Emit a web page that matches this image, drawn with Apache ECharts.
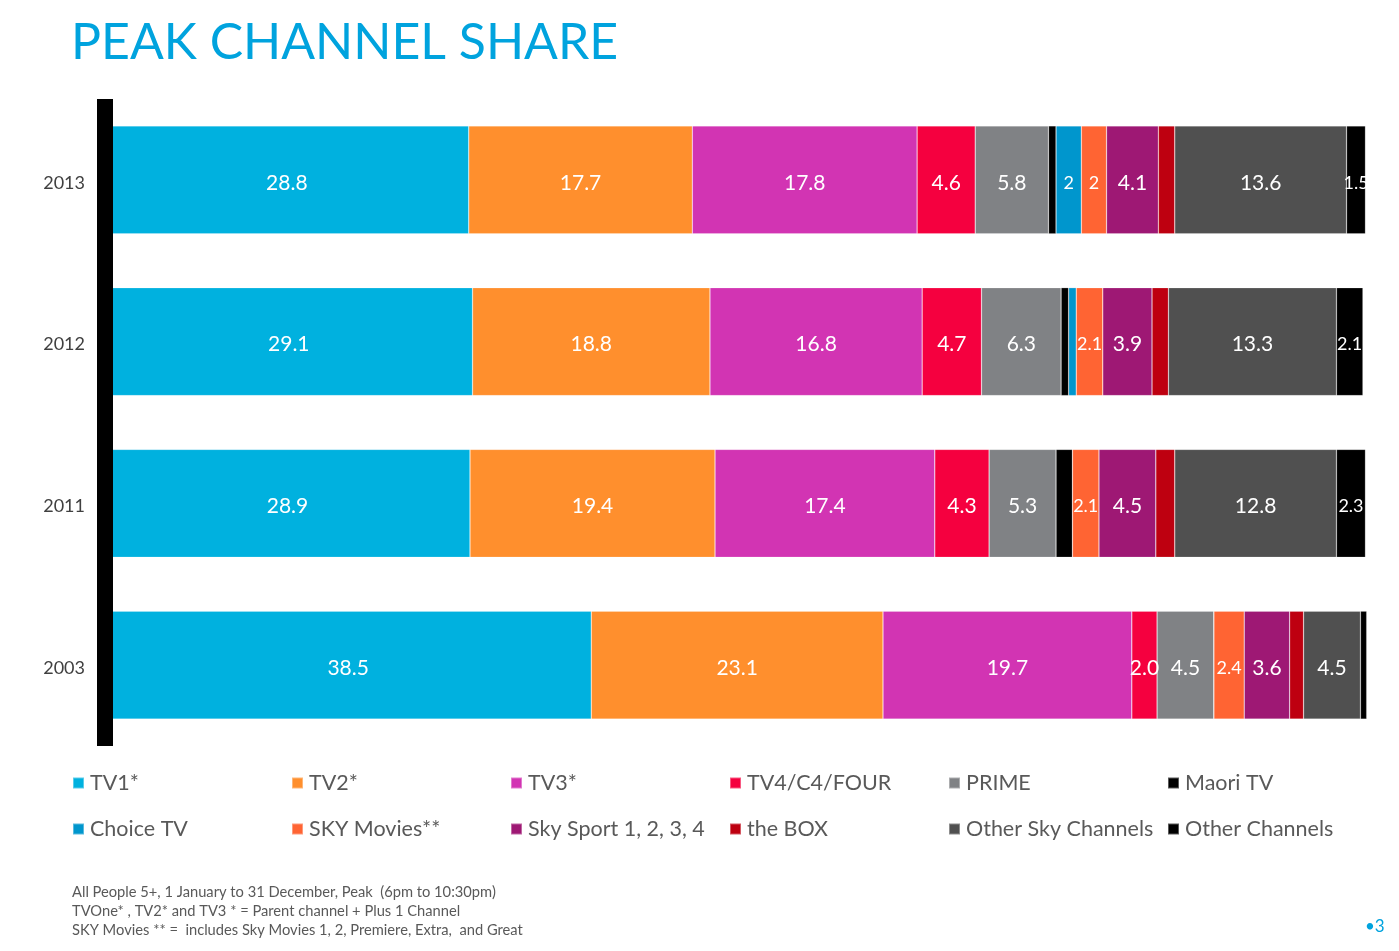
<!DOCTYPE html>
<html>
<head>
<meta charset="utf-8">
<script src="https://cdn.jsdelivr.net/npm/echarts@6/dist/echarts.min.js"></script>
<style>
  html, body { margin: 0; padding: 0; background: #fff; }
  #main { width: 1399px; height: 951px; }
</style>
</head>
<body>
<div id="main"></div>
<script>
// years, top to bottom
var years = ['2013', '2012', '2011', '2003']

// channel share per year (same order as years)
var tv1 = [28.8, 29.1, 28.9, 38.5]
var tv2 = [17.7, 18.8, 19.4, 23.1]
var tv3 = [17.8, 16.8, 17.4, 19.7]
var tv4 = [4.6, 4.7, 4.3, 2.0]
var prime = [5.8, 6.3, 5.3, 4.5]
var maori = [0.6, 0.6, 1.3, 0]
var choice = [2, 0.6, 0, 0]
var skyMovies = [2, 2.1, 2.1, 2.4]
var skySport = [4.1, 3.9, 4.5, 3.6]
var theBox = [1.3, 1.3, 1.5, 1.1]
var otherSky = [13.6, 13.3, 12.8, 4.5]
var otherCh = [1.5, 2.1, 2.3, 0.5]

var names = ['TV1*', 'TV2*', 'TV3*', 'TV4/C4/FOUR', 'PRIME', 'Maori TV',
  'Choice TV', 'SKY Movies**', 'Sky Sport 1, 2, 3, 4', 'the BOX', 'Other Sky Channels', 'Other Channels']
var values = [tv1, tv2, tv3, tv4, prime, maori, choice, skyMovies, skySport, theBox, otherSky, otherCh]
var colors = ['#00B1DF', '#FF8F2D', '#D234B3', '#F5003F', '#808285', '#000000',
  '#0096CD', '#FF6433', '#9E1874', '#BE0010', '#505050', '#000000']

var font = 'Lato'

var series = []
for (let i = 0; i < names.length; i++) {
  let hideAll = names[i] == 'Maori TV' || names[i] == 'the BOX'
  let small = names[i] == 'SKY Movies**' || names[i] == 'Other Channels' || names[i] == 'Choice TV'
  let fixed = names[i] == 'TV4/C4/FOUR'
  series.push({
    name: names[i],
    type: 'bar',
    stack: 'share',
    barWidth: 108,
    data: values[i],
    itemStyle: { color: colors[i], borderColor: 'rgba(255,255,255,0.35)', borderWidth: 0.6 },
    label: {
      show: !hideAll,
      position: 'inside',
      offset: [0, 3],
      color: '#fff',
      fontFamily: font,
      fontSize: small ? 18 : 21,
      formatter: function (p) {
        if (p.value < 1) return ''
        return fixed ? p.value.toFixed(1) : String(p.value)
      }
    }
  })
}

// one legend per item so they sit in fixed columns
var legends = []
for (let i = 0; i < names.length; i++) {
  legends.push({
    top: 767 + (i < 6 ? 0 : 46),
    left: 67 + (i % 6) * 219,
    itemWidth: 11,
    itemHeight: 11,
    itemGap: 10,
    icon: 'rect',
    data: [names[i]],
    selectedMode: false,
    textStyle: { fontFamily: font, fontSize: 21.5, color: '#595959', padding: [0, 0, 0, 1] }
  })
}

var mychart = echarts.init(document.getElementById('main'))
mychart.setOption({
  animation: false,
  color: colors,
  title: {
    text: 'PEAK CHANNEL SHARE',
    left: 66,
    top: 13,
    textStyle: { fontFamily: font, fontWeight: 'normal', fontSize: 50, color: '#00A3DE' }
  },
  legend: legends,
  grid: { left: 105, right: 31, top: 99, bottom: 205 },
  xAxis: { type: 'value', min: 0, max: 100, show: false },
  yAxis: {
    type: 'category',
    data: years,
    inverse: true,
    z: 10,
    axisLine: { show: true, lineStyle: { color: '#000', width: 16, cap: 'butt' } },
    axisTick: { show: false },
    axisLabel: {
      margin: 20,
      formatter: '{y|{value}}',
      rich: { y: { fontFamily: font, fontSize: 18, color: '#404040', padding: [6, 0, 0, 0] } }
    }
  },
  graphic: [
    {
      type: 'text', left: 72, top: 883,
      style: {
        text: 'All People 5+, 1 January to 31 December, Peak  (6pm to 10:30pm)\nTVOne* , TV2* and TV3 * = Parent channel + Plus 1 Channel\nSKY Movies ** =  includes Sky Movies 1, 2, Premiere, Extra,  and Great',
        font: '14.7px ' + font, fill: '#595959', lineHeight: 19
      }
    },
    {
      type: 'text', left: 1365, top: 918,
      style: { text: '\u20223', font: '17px ' + font, fill: '#00A3DE' }
    }
  ],
  series: series
})
</script>
</body>
</html>
